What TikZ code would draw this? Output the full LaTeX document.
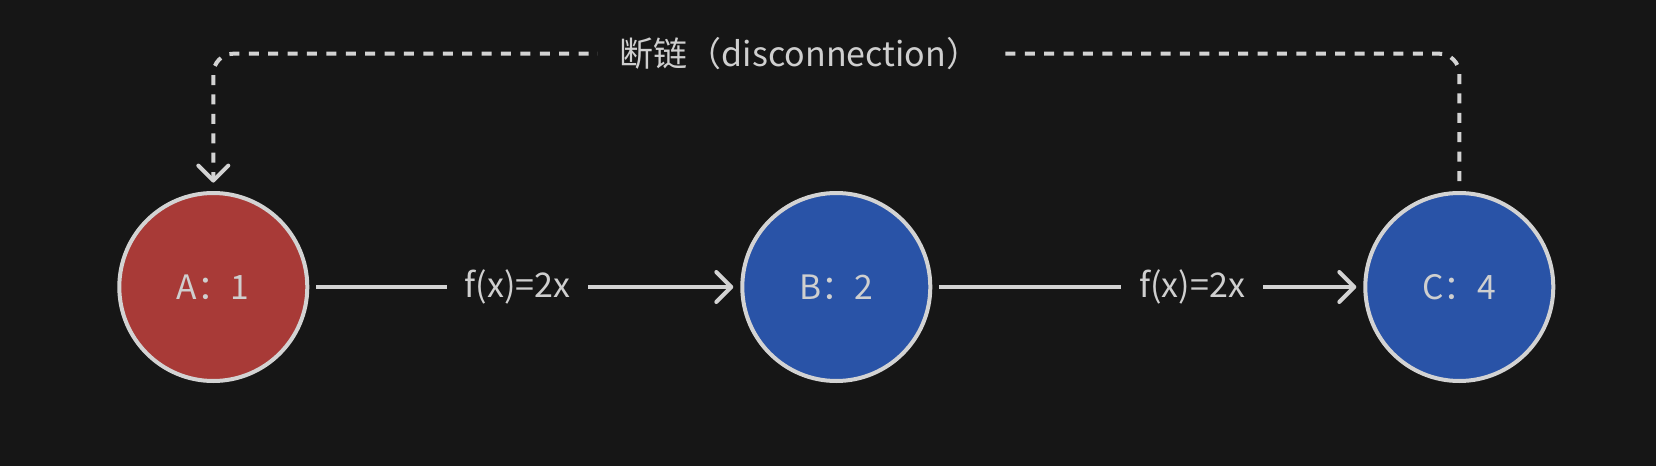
\documentclass[tikz,border=0pt]{standalone}
\usepackage{fontspec}
\setmainfont{Noto Sans CJK SC}
\usetikzlibrary{arrows.meta}
\definecolor{bgdark}{HTML}{161616}
\definecolor{nodered}{HTML}{A83A37}
\definecolor{nodeblue}{HTML}{2953A7}
\definecolor{rim}{HTML}{D3D3D3}
\definecolor{ink}{HTML}{CFCFCF}

\begin{document}
\begin{tikzpicture}[x=0.5pt,y=-0.5pt,
	state/.style={circle,draw=rim,line width=2pt,minimum size=94pt,inner sep=0pt,text=ink,font=\fontsize{16.8}{20}\selectfont},
	flow/.style={draw=rim,line width=2pt,-{Straight Barb[length=7.5pt,width=15pt,round]},shorten <=3.5pt,shorten >=3.5pt},
	rule/.style={fill=bgdark,text=ink,inner xsep=9pt,font=\fontsize{17}{20}\selectfont},
	cutline/.style={draw=rim,line width=2pt,dash pattern=on 5pt off 4.7pt,rounded corners=10pt,-{Straight Barb[length=7.5pt,width=15pt,round]},shorten <=5pt,shorten >=4.2pt}]
	\fill[bgdark] (0,0) rectangle (1656,466);
	\useasboundingbox (0,0) rectangle (1656,466);
	\foreach \n/\x/\v/\c in {A/213.3/1/nodered,B/836.3/2/nodeblue,C/1459.3/4/nodeblue} \node[state,fill=\c] (\n) at (\x,287) {\n：\v};
	\foreach \s/\t/\p in {A/B/0.483,B/C/0.603} \draw[flow] (\s) -- node[rule,pos=\p] {f(x)=2x} (\t);
	% broken link back from C to A
	\coordinate (topR) at (1459.3,53.7);
	\coordinate (topL) at (213.3,53.7);
	\draw[cutline] (C.north) -- (topR) -- (topL) -- (A.north);
	\node[rule,inner xsep=11pt] (cut) at (800,53.7) {断链（disconnection）};
\end{tikzpicture}
\end{document}
